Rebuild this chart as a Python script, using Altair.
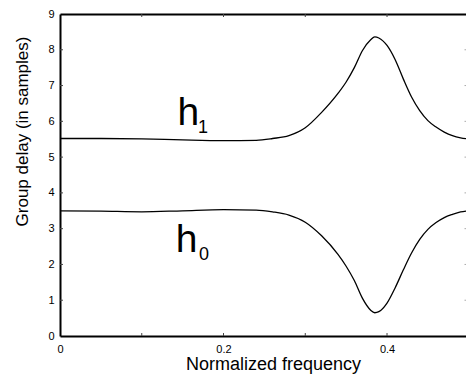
import altair as alt
import pandas as pd

# ---- data ----
freq = [0.0, 0.05, 0.10, 0.15, 0.20, 0.24, 0.26, 0.28, 0.30, 0.32, 0.34, 0.35, 0.36,
        0.37, 0.38, 0.385, 0.39, 0.40, 0.41, 0.42, 0.43, 0.44, 0.45, 0.46, 0.47,
        0.48, 0.49, 0.50]
h1 = [5.52, 5.52, 5.51, 5.48, 5.46, 5.47, 5.52, 5.60, 5.82, 6.25, 6.78, 7.10, 7.50,
      7.98, 8.28, 8.36, 8.33, 8.12, 7.72, 7.18, 6.68, 6.30, 6.02, 5.84, 5.70,
      5.60, 5.54, 5.51]
h0 = [3.50, 3.49, 3.47, 3.50, 3.53, 3.52, 3.47, 3.38, 3.18, 2.80, 2.28, 1.95, 1.55,
      1.05, 0.72, 0.65, 0.68, 0.92, 1.35, 1.85, 2.32, 2.70, 2.98, 3.17, 3.31,
      3.40, 3.47, 3.50]
x_label_values = [0, 0.2, 0.4]
x_tick_values = [0.1, 0.2, 0.3, 0.4]
y_label_values = [0, 1, 2, 3, 4, 5, 6, 7, 8, 9]
y_tick_values = [1, 2, 3, 4, 5, 6, 7, 8]
x_domain = [0, 0.4966]
y_domain = [0, 9]

ann_text = ["h", "1", "h", "0"]
ann_f = [0.1437, 0.1688, 0.1416, 0.1700]
ann_v = [5.90, 5.68, 2.36, 2.12]
ann_size = [39, 18, 39, 18]

W, H = 406, 322
FONT = "Liberation Sans"

curves = pd.DataFrame({
    "f": freq * 2,
    "v": h1 + h0,
    "series": ["h1"] * len(freq) + ["h0"] * len(freq),
})
ann = pd.DataFrame({"f": ann_f, "v": ann_v, "t": ann_text, "s": ann_size})
xt = pd.DataFrame({"f": x_tick_values})
yt = pd.DataFrame({"v": y_tick_values})

xs = alt.Scale(domain=x_domain, nice=False, zero=False)
ys = alt.Scale(domain=y_domain, nice=False, zero=False)

lines = alt.Chart(curves).mark_line(
    color="black", strokeWidth=1.3, interpolate="monotone", clip=True
).encode(
    x=alt.X("f:Q", scale=xs, axis=alt.Axis(
        values=x_label_values, format="~g", orient="bottom",
        ticks=False, domain=True, domainColor="black", domainWidth=2,
        labelFontSize=11, labelPadding=7, labelColor="black", labelFont=FONT,
        title="Normalized frequency", titleFontSize=18, titleFont=FONT,
        titleFontWeight="normal", titleColor="black",
        titleX=213, titleY=33, titleBaseline="alphabetic", titleAlign="center",
        labelFlush=False)),
    y=alt.Y("v:Q", scale=ys, axis=alt.Axis(
        values=y_label_values, format="d", orient="left",
        ticks=False, domain=True, domainColor="black", domainWidth=2,
        labelFontSize=11, labelPadding=6, labelColor="black", labelFont=FONT,
        title="Group delay (in samples)", titleFontSize=17, titleFont=FONT,
        titleFontWeight="normal", titleColor="black", titleAngle=270,
        titleX=-33, titleY=117, titleBaseline="alphabetic", titleAlign="center",
        labelFlush=False)),
    detail="series:N",
)

labels = alt.Chart(ann).mark_text(
    color="black", font=FONT, align="left", baseline="alphabetic"
).encode(
    x=alt.X("f:Q", scale=xs, axis=None),
    y=alt.Y("v:Q", scale=ys, axis=None),
    text="t:N",
    size=alt.Size("s:Q", scale=None),
)

top_frame = alt.Chart(xt).mark_rule(color="#444", strokeWidth=1).encode(
    x=alt.X("f:Q", scale=xs, axis=alt.Axis(
        orient="top", labels=False, ticks=False, domain=True,
        domainColor="black", domainWidth=2, title=None)),
    y=alt.value(0), y2=alt.value(3),
)

bottom_ticks = alt.Chart(xt).mark_rule(color="#444", strokeWidth=1).encode(
    x=alt.X("f:Q", scale=xs, axis=None),
    y=alt.value(H), y2=alt.value(H - 3),
)

left_ticks = alt.Chart(yt).mark_rule(color="#444", strokeWidth=1).encode(
    y=alt.Y("v:Q", scale=ys, axis=None),
    x=alt.value(0), x2=alt.value(3),
)

right_ticks = alt.Chart(yt).mark_rule(color="#aaa", strokeWidth=1).encode(
    y=alt.Y("v:Q", scale=ys, axis=None),
    x=alt.value(W - 1.5), x2=alt.value(W),
)

chart = alt.layer(
    lines, labels, top_frame, bottom_ticks, left_ticks, right_ticks
).resolve_axis(x="independent", y="independent").properties(
    width=W, height=H,
    autosize=alt.AutoSizeParams(type="none"),
    padding={"left": 60, "top": 14, "right": 0, "bottom": 43},
    background="white",
).configure_view(stroke=None).configure_axis(grid=False)

chart.save("out.html", embed_options={"renderer": "svg", "actions": False})
